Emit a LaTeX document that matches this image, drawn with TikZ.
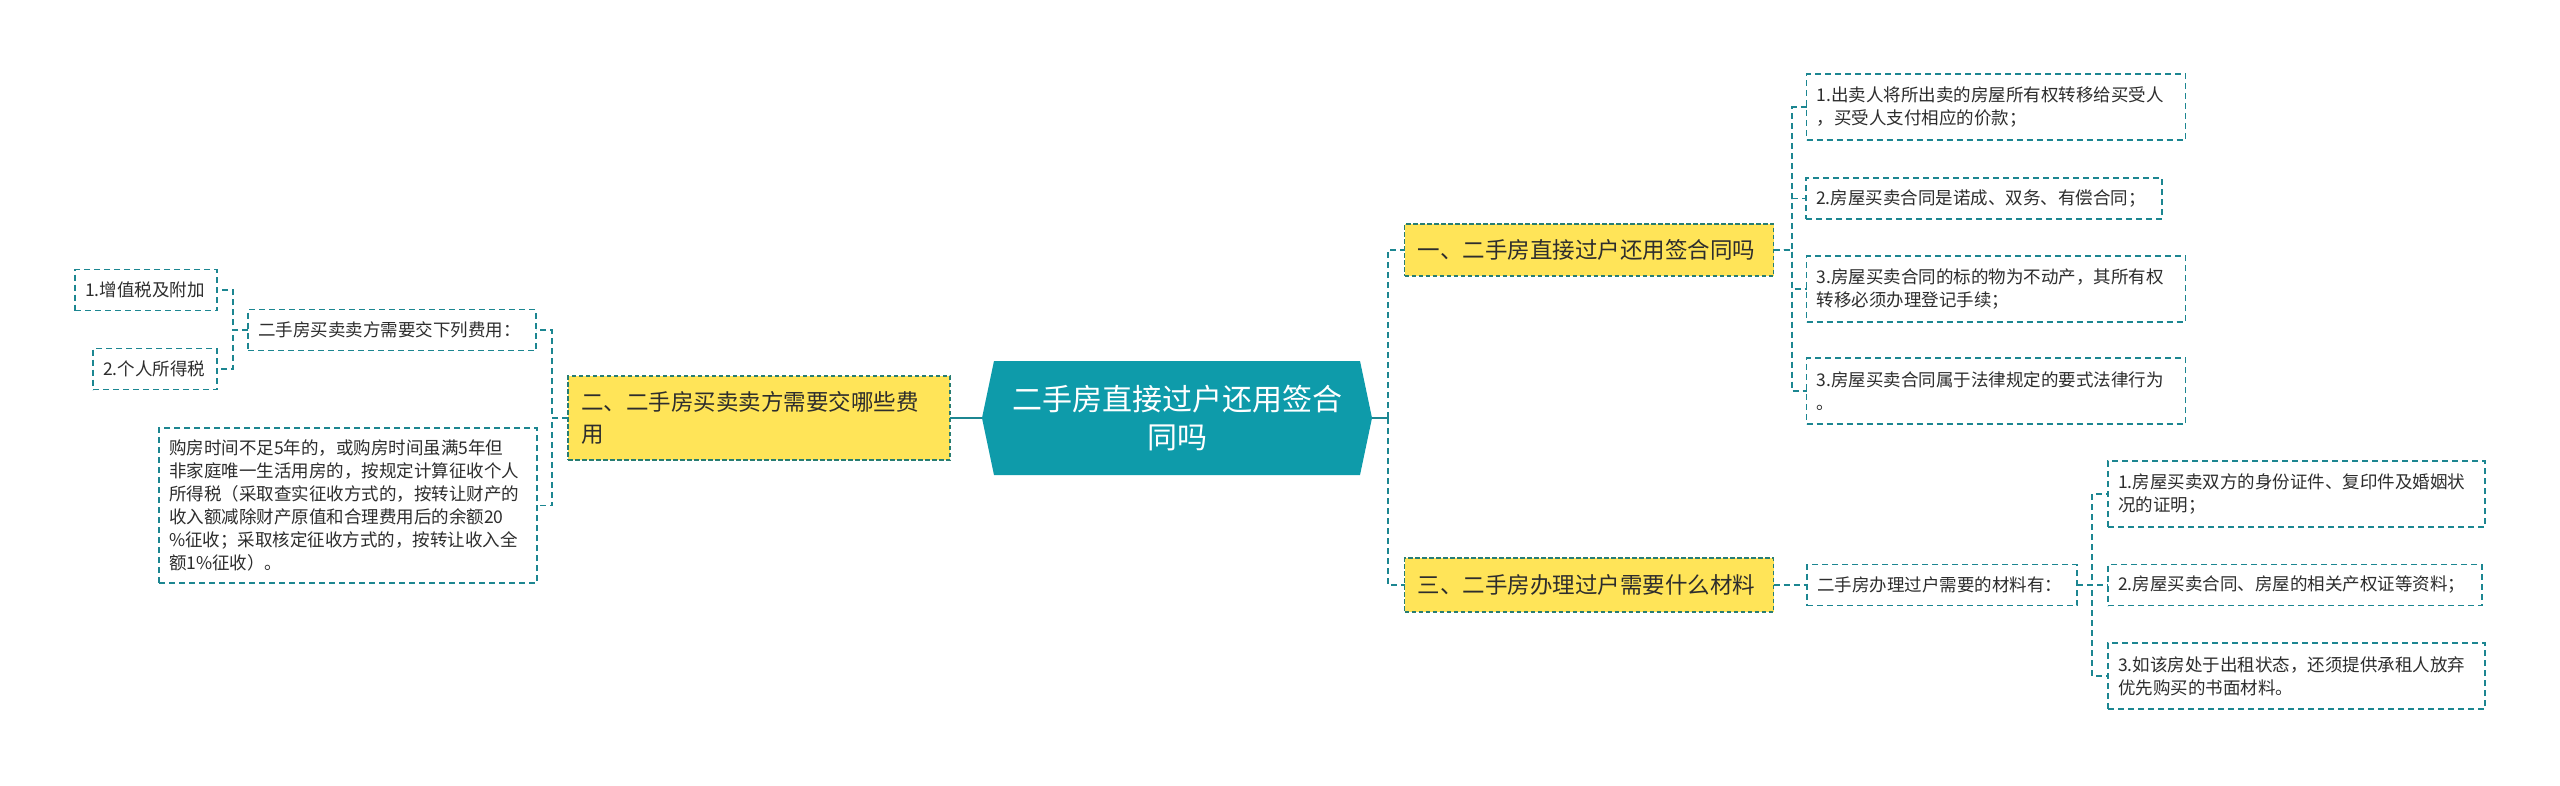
\documentclass[tikz,border=0pt]{standalone}
\usepackage{fontspec}
\setmainfont{Noto Sans CJK SC}
\usetikzlibrary{backgrounds}
\definecolor{linec}{RGB}{28,134,145}
\definecolor{rootc}{RGB}{14,155,170}
\definecolor{yfill}{RGB}{255,228,88}
\definecolor{ybord}{RGB}{40,125,115}
\definecolor{textc}{RGB}{45,45,45}
\newcommand\fszS{\fontsize{17.5}{23}\selectfont}
\newcommand\fszM{\fontsize{22.5}{32}\selectfont}
\newcommand\fszL{\fontsize{30}{38}\selectfont}
\tikzset{
  conn/.style={draw=linec, line width=1.9pt, dash pattern=on 6pt off 4pt},
  solidc/.style={draw=linec, line width=2.4pt},
  box/.style={draw=linec, line width=1.9pt, dash pattern=on 6pt off 4pt, fill=white,
    font=\fszS, text=textc, align=left, inner xsep=10pt, inner ysep=0pt, outer sep=0pt},
  ybox/.style={draw=ybord, line width=1.5pt, dash pattern=on 4.5pt off 2.5pt, fill=yfill,
    font=\fszM, text=textc, align=left, inner xsep=13pt, inner ysep=0pt, outer sep=0pt},
  rootbox/.style={font=\fszL, text=white, align=center, inner sep=0pt, outer sep=0pt},
}
\begin{document}
\begin{tikzpicture}[x=1pt,y=-1pt]
\begin{scope}[on background layer]
\fill[white] (0,0) rectangle (2560,785);
\end{scope}
\useasboundingbox (0,0) rectangle (2560,785);

% root
\node[rootbox, minimum width=390pt, minimum height=114pt] (root) at (1177,418) {二手房直接过户还用签合\\同吗};
\begin{scope}[on background layer]
\fill[rootc] (root.west) -- ([xshift=12pt]root.north west) -- ([xshift=-12pt]root.north east)
  -- (root.east) -- ([xshift=-12pt]root.south east) -- ([xshift=12pt]root.south west) -- cycle;
\end{scope}

% first level
\node[ybox, minimum width=382pt, minimum height=84pt, text width=356pt] (Y2) at (759,418) {二、二手房买卖卖方需要交哪些费\\用};
\node[ybox, minimum width=369pt, minimum height=52pt, text width=343pt] (Y1) at (1589,250) {一、二手房直接过户还用签合同吗};
\node[ybox, minimum width=369pt, minimum height=54pt, text width=343pt] (Y3) at (1589,585) {三、二手房办理过户需要什么材料};

% left branch
\node[box, minimum width=288pt, minimum height=41pt, text width=268pt] (a) at (392,330) {二手房买卖卖方需要交下列费用：};
\node[box, minimum width=378pt, minimum height=155pt, text width=358pt] (b) at (348,505.5) {购房时间不足5年的，或购房时间虽满5年但\\非家庭唯一生活用房的，按规定计算征收个人\\所得税（采取查实征收方式的，按转让财产的\\收入额减除财产原值和合理费用后的余额20\\\%征收；采取核定征收方式的，按转让收入全\\额1\%征收）。};
\node[box, minimum width=142pt, minimum height=41pt, text width=122pt] (a1) at (146,290) {1.增值税及附加};
\node[box, minimum width=124pt, minimum height=41pt, text width=104pt] (a2) at (155,369) {2.个人所得税};

% right upper branch
\node[box, minimum width=379pt, minimum height=66pt, text width=359pt] (c1) at (1996,107) {1.出卖人将所出卖的房屋所有权转移给买受人\\，买受人支付相应的价款；};
\node[box, minimum width=356pt, minimum height=41pt, text width=336pt] (c2) at (1984,198.5) {2.房屋买卖合同是诺成、双务、有偿合同；};
\node[box, minimum width=379pt, minimum height=66pt, text width=359pt] (c3) at (1996,289) {3.房屋买卖合同的标的物为不动产，其所有权\\转移必须办理登记手续；};
\node[box, minimum width=379pt, minimum height=66pt, text width=359pt] (c4) at (1996,391) {3.房屋买卖合同属于法律规定的要式法律行为\\。};

% right lower branch
\node[box, minimum width=270pt, minimum height=41pt, text width=250pt] (d) at (1942,585) {二手房办理过户需要的材料有：};
\node[box, minimum width=377pt, minimum height=66pt, text width=357pt] (m1) at (2296.5,494) {1.房屋买卖双方的身份证件、复印件及婚姻状\\况的证明；};
\node[box, minimum width=374pt, minimum height=41pt, text width=354pt] (m2) at (2295,585) {2.房屋买卖合同、房屋的相关产权证等资料；};
\node[box, minimum width=377pt, minimum height=66pt, text width=357pt] (m3) at (2296.5,676) {3.如该房处于出租状态，还须提供承租人放弃\\优先购买的书面材料。};

% bracket coordinates
\coordinate (bR) at (1388,418);
\coordinate (bx1) at (1792,0);
\coordinate (bx2) at (2092,0);
\coordinate (bx3) at (552,0);
\coordinate (bx4) at (233,0);

% connectors
\draw[solidc] (root.west) -- (Y2.east);
\draw[solidc] (root.east) -- (bR);
\draw[conn] (bR) |- (Y1.west);
\draw[conn] (bR) |- (Y3.west);

\foreach \c in {c1,c2,c3,c4}
  \draw[conn] (Y1.east) -- (Y1.east -| bx1) |- (\c.west);
\draw[conn] (Y3.east) -- (d.west);
\foreach \c in {m1,m2,m3}
  \draw[conn] (d.east) -- (d.east -| bx2) |- (\c.west);
\foreach \c in {a,b}
  \draw[conn] (Y2.west) -- (Y2.west -| bx3) |- (\c.east);
\foreach \c in {a1,a2}
  \draw[conn] (a.west) -- (a.west -| bx4) |- (\c.east);
\end{tikzpicture}
\end{document}
